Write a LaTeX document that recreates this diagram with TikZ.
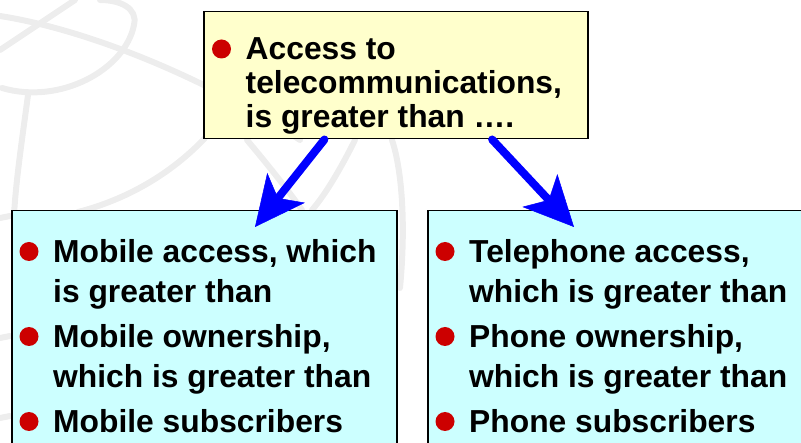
\documentclass[tikz,border=0pt]{standalone}
\usepackage{fontspec}
\setmainfont{Liberation Sans}
\usetikzlibrary{
	positioning		% relative placement
	, arrows.meta		% Stealth tips
	, calc			% anchor arithmetic
}

\definecolor{boxyellow}{HTML}{FFFFCC}
\definecolor{boxcyan}{HTML}{CCFFFF}
\definecolor{dotred}{HTML}{CC0000}
\definecolor{arrowblue}{HTML}{0000FF}
\definecolor{globegray}{HTML}{EDEDED}

\begin{document}
\begin{tikzpicture}[
		x=1pt, y=-1pt,
		box/.style={
			rectangle,
			draw=black, line width=1.5pt,
			anchor=north west,
			inner sep=0pt
		},
		listtext/.style={
			anchor=north west,
			inner sep=0pt,
			font=\fontsize{31.8}{#1}\selectfont\bfseries
		},
		bullet/.style={
			fill=dotred
		},
		globe/.style={
			draw=globegray,
			line width=6pt,
			line cap=round
		},
		flow/.style={
			draw=arrowblue,
			line width=8pt,
			line cap=round,
			-{Stealth[length=50pt, width=48pt, inset=13pt, line width=0.5pt]}
		}]

	\useasboundingbox (0,0) rectangle (801,443);
	\clip (0,0) rectangle (801,443);

	%%% faint globe behind everything
	\path [globe] (0,16) .. controls (90,30) and (210,80) .. (300,140);
	\path [globe] (2,88) .. controls (60,105) and (125,70) .. (134,25) .. controls (138,8) and (120,0) .. (100,0);
	\path [globe] (0,50) .. controls (30,30) and (60,10) .. (75,0);
	\path [globe] (28,95) .. controls (22,140) and (16,180) .. (14,215);
	\path [globe] (205,138) .. controls (170,175) and (125,200) .. (78,212);
	\path [globe] (247,140) .. controls (268,165) and (288,190) .. (302,210);
	\path [globe] (355,140) .. controls (340,170) and (325,195) .. (312,210);
	\path [globe] (392,140) .. controls (402,170) and (406,225) .. (400,288);
	\path [globe] (0,218) -- (10,216);
	\path [globe] (0,338) -- (10,336);
	\path [globe] (0,418) -- (10,416);

	%%% the three boxes
	\node [box, fill=boxyellow, minimum width=384pt, minimum height=127pt] (access) at (203,11) {};
	\node [box, fill=boxcyan, minimum width=385pt, minimum height=260pt] (mobile) at (11,210) {};
	\node [box, fill=boxcyan, minimum width=400pt, minimum height=260pt] (phone) at (427,210) {};

	% texts inside them
	\node [listtext=34] (accesstext) at ($(access.north west)+(42.5,25)$) {%
		\begin{tabular}{@{}l@{}}
			Access to\\
			telecommunications,\\
			is greater than ….
		\end{tabular}};
	\node [listtext=40] (mobiletext) at ($(mobile.north west)+(42,24)$) {%
		\begin{tabular}{@{}l@{}}
			Mobile access, which\\
			is greater than\\[5pt]
			Mobile ownership,\\
			which is greater than\\[5pt]
			Mobile subscribers
		\end{tabular}};
	\node [listtext=40] (phonetext) at ($(phone.north west)+(42,24)$) {%
		\begin{tabular}{@{}l@{}}
			Telephone access,\\
			which is greater than\\[5pt]
			Phone ownership,\\
			which is greater than\\[5pt]
			Phone subscribers
		\end{tabular}};

	% red bullets in front of each item
	\fill [bullet] ($(access.north west)+(18.5,38)$) circle[radius=9.5];
	\foreach \dy in {41.5, 126.5, 211.5} {
		\fill [bullet] ($(mobile.north west)+(18,\dy)$) circle[radius=9.5];
		\fill [bullet] ($(phone.north west)+(18,\dy)$) circle[radius=9.5];
	}

	%%% arrows from the top box down
	\draw [flow] ($(access.south west)!0.315!(access.south east)$) -- ($(mobile.north west)+(244,17)$);
	\draw [flow] ($(access.south west)!0.75!(access.south east)$) -- ($(phone.north west)+(147,17)$);

\end{tikzpicture}
\end{document}
